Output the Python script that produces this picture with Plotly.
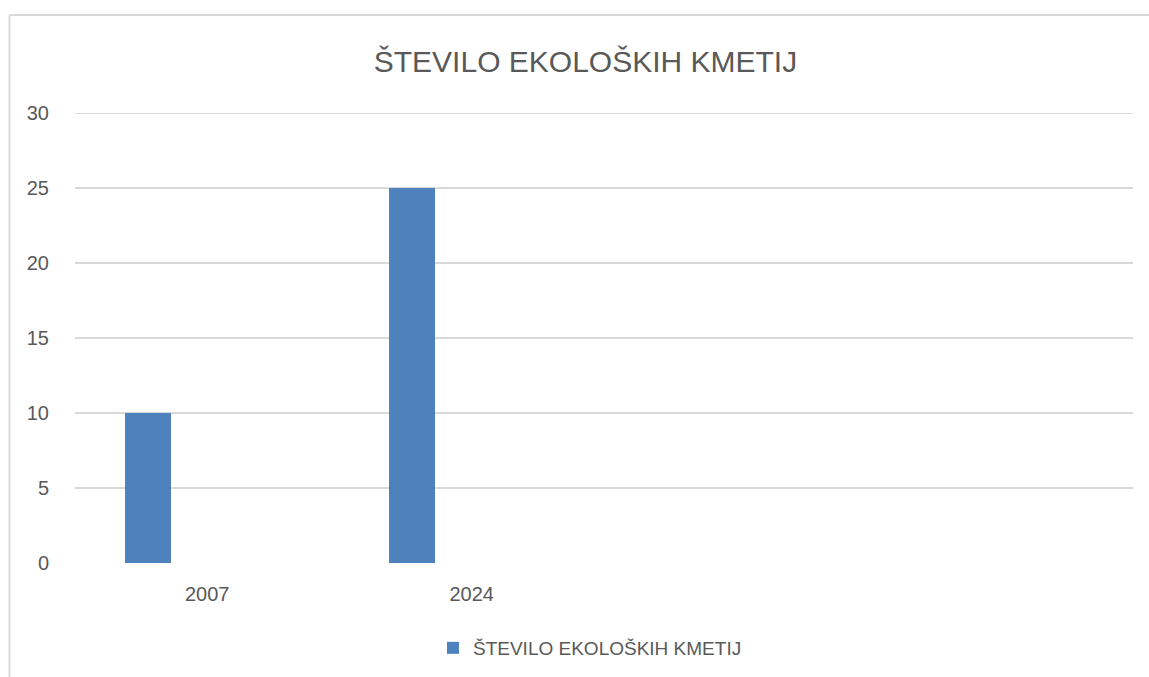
import plotly.graph_objects as go

categories = ["2007", "2024"]
values = [10, 25]
series_name = "ŠTEVILO EKOLOŠKIH KMETIJ"
title_text = "ŠTEVILO EKOLOŠKIH KMETIJ"
y_ticks = [0, 5, 10, 15, 20, 25, 30]

W, H = 1149, 677
L, R, T, B = 75, 16, 113, 114
pw = W - L - R
ph = H - T - B

def px_x(p):
    return (p - L) / pw

def px_y(p):
    return (H - B - p) / ph

fig = go.Figure()
fig.add_trace(go.Bar(
    x=categories, y=values, name=series_name,
    marker=dict(color="#4f81bd", line=dict(width=0)),
    width=0.174, offset=-0.312,
    showlegend=True,
))

fig.update_layout(
    width=W, height=H,
    margin=dict(l=L, r=R, t=T, b=B, autoexpand=False),
    paper_bgcolor="white", plot_bgcolor="white",
    font=dict(family="Liberation Sans, Arial, sans-serif", color="#595959", size=20),
    title=dict(text=title_text, x=px_x(585.5), xanchor="center", xref="paper",
               y=1 - 61 / H, yanchor="middle",
               font=dict(size=30, color="#595959", family="Liberation Sans, Arial, sans-serif")),
    showlegend=True,
    legend=dict(orientation="h", x=px_x(590), xanchor="center", y=px_y(648), yanchor="middle",
                font=dict(size=19, color="#595959"), itemwidth=30, bgcolor="rgba(0,0,0,0)"),
    bargap=0,
    xaxis=dict(type="category", categoryorder="array", categoryarray=categories,
               range=[-0.5, 3.5], showgrid=False, zeroline=False, showline=False,
               ticks="", ticklabelstandoff=17, tickfont=dict(size=20, color="#595959"),
               fixedrange=True),
    yaxis=dict(range=[0, 30], tickvals=y_ticks, showgrid=True, gridcolor="#d9d9d9", gridwidth=2,
               zeroline=False, showline=False, ticks="", ticklabelstandoff=25,
               tickfont=dict(size=20, color="#595959"), fixedrange=True),
    shapes=[
        dict(type="line", xref="paper", yref="y", x0=0, x1=1, y0=y_ticks[-1], y1=y_ticks[-1],
             line=dict(color="#d9d9d9", width=2), layer="below"),
        dict(type="line", xref="paper", yref="paper", x0=px_x(9.5), x1=px_x(1160),
             y0=px_y(15), y1=px_y(15), line=dict(color="#d9d9d9", width=2)),
        dict(type="line", xref="paper", yref="paper", x0=px_x(9.5), x1=px_x(9.5),
             y0=px_y(15), y1=px_y(700), line=dict(color="#d9d9d9", width=2)),
    ],
)

fig.write_html("out.html", config={"displayModeBar": False},
               post_script="document.body.style.margin='0';document.body.style.overflow='hidden';")
